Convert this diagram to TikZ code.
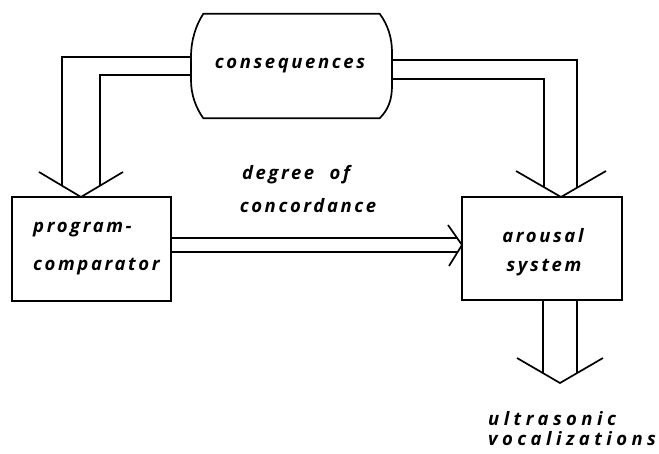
\documentclass[tikz,border=0pt]{standalone}
\usepackage{fontspec}
\newfontfamily\handfont[LetterSpace=14]{Open Sans}
\newfontfamily\widehandfont[LetterSpace=24]{Open Sans}
\begin{document}
\begin{tikzpicture}[x=1pt,y=-1pt,
  wire/.style={line width=1.7pt, line join=miter},
  boxnode/.style={draw, line width=1.7pt, inner sep=0pt},
  lbl/.style={inner sep=0pt, font=\handfont\bfseries\itshape\fontsize{18.5}{22}\selectfont},
  widelbl/.style={inner sep=0pt, font=\widehandfont\bfseries\itshape\fontsize{18.5}{22}\selectfont}
]
\useasboundingbox (0,0) rectangle (659,454);

% blocks
\node[boxnode, minimum width=159pt, minimum height=104pt] (prog) at (91.5,249) {};
\node[boxnode, minimum width=160pt, minimum height=103pt] (arou) at (542,248.5) {};
\node[inner sep=0pt, minimum width=176pt, minimum height=104pt] (cons) at (291.5,66) {};

% barrel outline of the consequences block
\draw[wire] (cons.north west) -- (cons.north east)
  .. controls (388,25) and (392,38) .. (392,52) -- (392,86)
  .. controls (392,100) and (388,110) .. (cons.south east)
  -- (cons.south west)
  .. controls (196,108) and (191,95) .. (191,80) -- (191,57)
  .. controls (191,40) and (196,25) .. (cons.north west) -- cycle;

% ports
\coordinate (cl1) at (191,57);
\coordinate (cl2) at (191,75);
\coordinate (cr1) at (392,60);
\coordinate (cr2) at (392,79);

% labels
\node[lbl, anchor=base] (t-cons) at (290,69) {consequences};
\node[lbl, anchor=base] (t-deg) at (296,180) {degree\hspace{8pt} of};
\node[lbl, anchor=base] (t-conc) at (308,213) {concordance};
\node[lbl, anchor=base west] (t-prog) at (33,233) {program-};
\node[lbl, anchor=base west] (t-comp) at (33,271) {comparator};
\node[lbl, anchor=base] (t-arou) at (543,243) {arousal};
\node[lbl, anchor=base] (t-sys) at (544,272) {system};
\node[widelbl, anchor=base west] (t-ultra) at (488,425) {ultrasonic};
\node[widelbl, anchor=base west] (t-voc) at (488,446) {vocalizations};

% consequences -> program-comparator
\coordinate (tipA) at (81,197);
\draw[wire] (cl1) -- (62,57) -- (62,185.7);
\draw[wire] (cl2) -- (100,75) -- (100,185.7);
\draw[wire] (39,172) -- (tipA) -- (123,172);

% consequences -> arousal system
\coordinate (tipB) at (561,197);
\draw[wire] (cr1) -- (577,60) -- (577,187.8);
\draw[wire] (cr2) -- (544,79) -- (544,187.2);
\draw[wire] (516,171) -- (tipB) -- (606,171);

% program-comparator -> arousal system
\coordinate (tipC) at (462,245);
\draw[wire] (prog.east |- 0,238) -- (457,238);
\draw[wire] (prog.east |- 0,252) -- (457,252);
\draw[wire] (448,225) -- (tipC) -- (449,266);

% arousal system -> output
\coordinate (tipD) at (560,383);
\draw[wire] (arou.south -| 543,0) -- (543,373);
\draw[wire] (arou.south -| 577,0) -- (577,373);
\draw[wire] (517,358) -- (tipD) -- (603,358);
\end{tikzpicture}
\end{document}
